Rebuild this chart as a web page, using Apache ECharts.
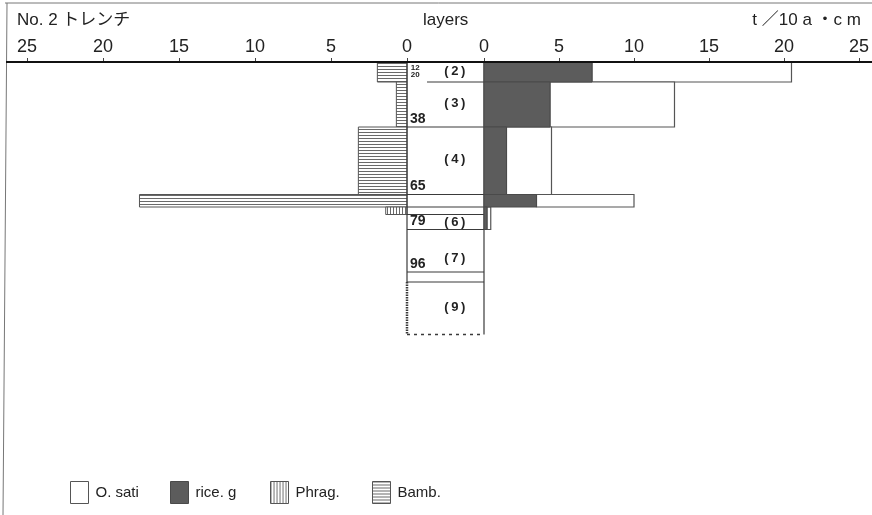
<!DOCTYPE html>
<html>
<head>
    <meta charset="UTF-8">
    <title>No. 2 trench</title>
    <style>
        html, body {
            height: 100%;
            width: 100%;
            margin: 0;
            padding: 0;
            background: #fff;
        }
    </style>
    <script src="https://cdn.jsdelivr.net/npm/echarts/dist/echarts.min.js"></script>
</head>
<body>
<div id="main" style="width: 872px; height: 515px;"></div>
<script type="text/javascript">
    // depth of each row (cm), top and bottom
    var rowTop = [12, 20, 38, 65, 70];
    var rowBottom = [20, 38, 65, 70, 79];
    // right side, t/10a·cm
    var riceG = [7.2, 4.4, 1.5, 3.5, 0.2];
    var oSati = [13.3, 8.3, 3.0, 6.5, 0.25];   // stacked on rice.g
    // left side
    var bamb = [1.95, 0.7, 3.2, 17.6, 0];
    var phragDepth = [70, 73];
    var phrag = [1.4];
    // layers column
    var boundaries = [38, 65, 70, 73, 79, 96, 100];
    var depthLabels = ['38', '65', '79', '96'];
    var layerNames = ['(2)', '(3)', '(4)', '(6)', '(7)', '(9)'];
    var layerNameDepth = [15.6, 28.5, 51, 76, 90.5, 110];

    var FONT = '"Liberation Sans Narrow", "Liberation Sans", "Noto Sans CJK JP", sans-serif';
    var LINE = '#3a3a3a';

    function hatch(dir) {
        var c = document.createElement('canvas');
        c.width = 3; c.height = 3;
        var g = c.getContext('2d');
        g.fillStyle = '#fff';
        g.fillRect(0, 0, 3, 3);
        g.fillStyle = '#6a6a6a';
        if (dir === 'h') g.fillRect(0, 0, 3, 1); else g.fillRect(0, 0, 1, 3);
        return {image: c, repeat: 'repeat'};
    }
    var bambFill = hatch('h');
    var phragFill = hatch('v');
    var riceFill = '#5c5c5c';
    var satiFill = '#ffffff';

    var styles = {
        'O. sati': {fill: satiFill, stroke: '#555', lineWidth: 1.2},
        'rice. g': {fill: riceFill, stroke: '#4a4a4a', lineWidth: 1},
        'Phrag.': {fill: phragFill, stroke: '#555', lineWidth: 1},
        'Bamb.': {fill: bambFill, stroke: '#555', lineWidth: 1}
    };

    // value layout: [depthTop, depthBottom, xStart, xEnd]
    function rectItem(name) {
        return function (params, api) {
            var p0 = api.coord([api.value(2), api.value(0)]);
            var p1 = api.coord([api.value(3), api.value(1)]);
            if (Math.abs(p1[0] - p0[0]) < 0.5) return null;
            return {
                type: 'rect',
                shape: {
                    x: Math.min(p0[0], p1[0]), y: p0[1],
                    width: Math.abs(p1[0] - p0[0]), height: p1[1] - p0[1]
                },
                style: styles[name]
            };
        };
    }

    var bambData = [], riceData = [], satiData = [];
    for (var i = 0; i < rowTop.length; i++) {
        bambData.push([rowTop[i], rowBottom[i], 0, bamb[i]]);
        riceData.push([rowTop[i], rowBottom[i], 0, riceG[i]]);
        satiData.push([rowTop[i], rowBottom[i], riceG[i], riceG[i] + oSati[i]]);
    }
    var phragData = [[phragDepth[0], phragDepth[1], 0, phrag[0]]];

    function layersColumn(params, api) {
        var kids = [];
        function seg(x0, d0, x1, d1, extra) {
            var a = api.coord([x0, d0]), b = api.coord([x1, d1]);
            kids.push({
                type: 'line',
                shape: {x1: a[0], y1: a[1], x2: b[0], y2: b[1]},
                style: Object.assign({stroke: LINE, lineWidth: 1.2}, extra || {})
            });
        }
        boundaries.forEach(function (d) { seg(0, d, 1, d); });
        seg(0.26, 20, 1, 20);
        seg(0, 121, 1, 121, {lineDash: [3, 4], lineWidth: 1.5});
        seg(0, 12, 0, 100);
        seg(0, 100, 0, 121, {lineWidth: 2.5, lineDash: [1.5, 1]});
        seg(1, 12, 1, 121);
        depthLabels.forEach(function (t) {
            var p = api.coord([0.04, +t]);
            kids.push({
                type: 'text', x: p[0], y: p[1] - 1,
                style: {text: t, fill: '#222', font: 'bold 14px ' + FONT,
                    textAlign: 'left', textVerticalAlign: 'bottom'}
            });
        });
        var top = api.coord([0.05, 12]);
        kids.push({
            type: 'text', x: top[0], y: top[1] + 2,
            style: {text: '12\n20', fill: '#222', font: 'bold 8px ' + FONT,
                lineHeight: 7, textAlign: 'left', textVerticalAlign: 'top'}
        });
        layerNames.forEach(function (n, k) {
            var p = api.coord([0.62, layerNameDepth[k]]);
            kids.push({
                type: 'text', x: p[0], y: p[1],
                style: {text: n.split('').join('\u2009'), fill: '#222', font: 'bold 13px ' + FONT,
                    textAlign: 'center', textVerticalAlign: 'middle',
                    backgroundColor: '#fff', padding: [0, 3]}
            });
        });
        return {type: 'group', children: kids};
    }

    var axisLabelStyle = {fontSize: 18, color: '#222', fontFamily: FONT, margin: 6};
    function depthAxis(idx) {
        return {gridIndex: idx, type: 'value', min: 12, max: 121, inverse: true, show: false};
    }
    function amountAxis(idx, inverse) {
        return {
            gridIndex: idx, type: 'value', min: 0, max: 25, interval: 5,
            inverse: inverse, position: 'top',
            axisLine: {show: false},
            axisTick: {show: true, length: 4, lineStyle: {color: '#444'}},
            splitLine: {show: false},
            axisLabel: axisLabelStyle
        };
    }

    function legendFor(name, left) {
        var s = styles[name];
        return {
            left: left, top: 481, padding: 0, icon: 'rect', itemWidth: 18, itemHeight: 22, itemGap: 0,
            selectedMode: false,
            textStyle: {fontSize: 15, color: '#222', fontFamily: FONT, padding: [0, 0, 0, 2]},
            data: [{name: name, itemStyle: {color: s.fill, borderColor: s.stroke, borderWidth: 1}}]
        };
    }

    var myChart = echarts.init(document.getElementById('main'));
    var option = {
        backgroundColor: '#fff',
        animation: false,
        title: [
            {text: 'No. 2 トレンチ', left: 12, top: 7,
                textStyle: {fontSize: 17, fontWeight: 'normal', color: '#222', fontFamily: FONT}},
            {text: 'layers', left: 418, top: 7,
                textStyle: {fontSize: 17, fontWeight: 'normal', color: '#222', fontFamily: FONT}},
            {text: 't ／10 a ・c m', right: 6, top: 7,
                textStyle: {fontSize: 17, fontWeight: 'normal', color: '#222', fontFamily: FONT}}
        ],
        legend: [
            legendFor('O. sati', 70),
            legendFor('rice. g', 170),
            legendFor('Phrag.', 270),
            legendFor('Bamb.', 372)
        ],
        grid: [
            {left: 27, top: 62, width: 380, height: 272.5},
            {left: 407, top: 62, width: 77, height: 272.5},
            {left: 484, top: 62, width: 376, height: 272.5}
        ],
        xAxis: [
            amountAxis(0, true),
            {gridIndex: 1, type: 'value', min: 0, max: 1, show: false},
            amountAxis(2, false)
        ],
        yAxis: [depthAxis(0), depthAxis(1), depthAxis(2)],
        graphic: [
            {type: 'line', shape: {x1: 5, y1: 3, x2: 872, y2: 3}, style: {stroke: '#777', lineWidth: 1}},
            {type: 'line', shape: {x1: 7, y1: 3, x2: 3, y2: 515}, style: {stroke: '#777', lineWidth: 1}},
            {type: 'line', z: 10, shape: {x1: 6, y1: 62, x2: 872, y2: 62}, style: {stroke: '#111', lineWidth: 2}}
        ],
        series: [
            {name: 'Bamb.', type: 'custom', xAxisIndex: 0, yAxisIndex: 0,
                renderItem: rectItem('Bamb.'), encode: {x: [2, 3], y: [0, 1]}, data: bambData},
            {name: 'Phrag.', type: 'custom', xAxisIndex: 0, yAxisIndex: 0,
                renderItem: rectItem('Phrag.'), encode: {x: [2, 3], y: [0, 1]}, data: phragData},
            {name: 'layers', type: 'custom', xAxisIndex: 1, yAxisIndex: 1,
                renderItem: layersColumn, data: [[0, 12]], silent: true},
            {name: 'O. sati', type: 'custom', xAxisIndex: 2, yAxisIndex: 2,
                renderItem: rectItem('O. sati'), encode: {x: [2, 3], y: [0, 1]}, data: satiData},
            {name: 'rice. g', type: 'custom', xAxisIndex: 2, yAxisIndex: 2,
                renderItem: rectItem('rice. g'), encode: {x: [2, 3], y: [0, 1]}, data: riceData}
        ]
    };
    myChart.setOption(option);
</script>
</body>
</html>
